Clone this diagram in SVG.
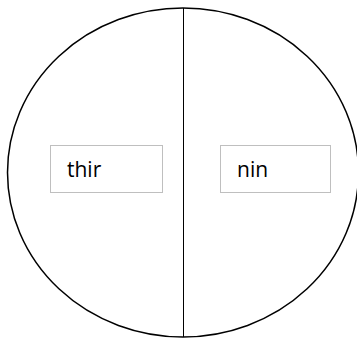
<svg xmlns="http://www.w3.org/2000/svg" width="357" height="339" viewBox="0 0 357 339">
<style>
.box{fill:#ffffff;stroke:#bfbfbf;stroke-width:1}
.lbl{font-family:"Open Sans","Liberation Sans",sans-serif;font-size:21px;fill:#000000}
</style>
<rect width="357" height="339" fill="#ffffff"/>
<g id="circle">
<ellipse cx="183" cy="172.5" rx="175.5" ry="164.5" fill="none" stroke="#000000" stroke-width="1.5"/>
</g>
<g id="connectors">
<line x1="183.5" y1="8" x2="183.5" y2="337" stroke="#000000" stroke-width="1"/>
</g>
<g id="thir">
<rect class="box" x="50.5" y="145.5" width="112" height="47"/>
<text class="lbl" x="67" y="177">thir</text>
</g>
<g id="nin">
<rect class="box" x="220.5" y="145.5" width="110" height="47"/>
<text class="lbl" x="237" y="177">nin</text>
</g>
</svg>
